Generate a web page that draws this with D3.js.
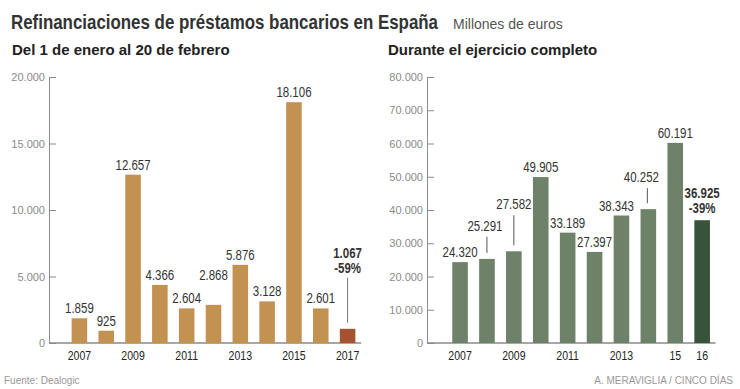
<!DOCTYPE html>
<html>
<head>
<meta charset="utf-8">
<script src="https://cdn.jsdelivr.net/npm/d3@7"></script>
<style>
  body { margin: 0; background: #fff; }
  svg { display: block; font-family: 'Liberation Sans', Arial, sans-serif; }
</style>
</head>
<body>
<svg id="chart" width="740" height="389"></svg>
<script>
// DATA
const yearsA = ["2007","2008","2009","2010","2011","2012","2013","2014","2015","2016","2017"];
const valuesA = [1859, 925, 12657, 4366, 2604, 2868, 5876, 3128, 18106, 2601, 1067];
const ticksA = [0, 5000, 10000, 15000, 20000];
const axisLabelsA = ["2007","2009","2011","2013","2015","2017"];

const yearsB = ["2007","2008","2009","2010","2011","2012","2013","2014","2015","2016"];
const valuesB = [24320, 25291, 27582, 49905, 33189, 27397, 38343, 40252, 60191, 36925];
const ticksB = [0, 10000, 20000, 30000, 40000, 50000, 60000, 70000, 80000];
const axisLabelsB = {"2007":"2007","2009":"2009","2011":"2011","2013":"2013","2015":"15","2016":"16"};

const fmt = v => d3.format(",")(v).replace(/,/g, ".");

const svg = d3.select("#chart");

// condensed text: regular font squeezed horizontally
function narrowText(parent, x, y, str, size, weight, anchor, sx) {
  return parent.append("text")
    .attr("transform", `translate(${x},${y}) scale(${sx || 0.82},1)`)
    .attr("text-anchor", anchor || "middle")
    .attr("font-size", size).attr("font-weight", weight || "normal")
    .attr("fill", "#333")
    .text(str);
}

// TITLES
narrowText(svg, 11, 29, "Refinanciaciones de préstamos bancarios en España", 20, "bold", "start", 0.845);
svg.append("text")
  .attr("x", 453).attr("y", 29)
  .attr("font-size", 14).attr("fill", "#555")
  .text("Millones de euros");
svg.append("text")
  .attr("x", 12).attr("y", 55)
  .attr("font-size", 15).attr("font-weight", "bold").attr("fill", "#222")
  .text("Del 1 de enero al 20 de febrero");
svg.append("text")
  .attr("x", 388).attr("y", 55)
  .attr("font-size", 15).attr("font-weight", "bold").attr("fill", "#222")
  .text("Durante el ejercicio completo");

// one panel
function panel(opts) {
  const x = d3.scaleBand().domain(opts.years).range(opts.xr).paddingInner(0.42).paddingOuter(0.21);
  const y = d3.scaleLinear().domain([0, opts.max]).range([343, 77]);
  const g = svg.append("g");

  const axis = d3.axisLeft(y).tickValues(opts.ticks).tickSize(-7).tickSizeOuter(0).tickPadding(4)
    .tickFormat(fmt);
  const ag = g.append("g").attr("transform", `translate(${opts.axisX},0)`).call(axis);
  ag.select(".domain").attr("stroke", "#8a8a8a");
  ag.selectAll(".tick line").attr("stroke", "#8a8a8a");
  ag.selectAll(".tick text").attr("fill", "#8a8a8a")
    .attr("font-family", "'Liberation Sans', Arial, sans-serif").attr("font-size", 11);

  // baseline
  g.append("line")
    .attr("x1", opts.axisX).attr("x2", opts.xr[1])
    .attr("y1", y(0)).attr("y2", y(0))
    .attr("stroke", "#8a8a8a").attr("stroke-width", 1.5);

  const last = opts.years.length - 1;
  g.selectAll("rect.bar").data(opts.values).join("rect")
    .attr("class", "bar")
    .attr("x", (d, i) => x(opts.years[i]))
    .attr("width", x.bandwidth())
    .attr("y", d => y(d))
    .attr("height", d => y(0) - y(d))
    .attr("fill", (d, i) => i === last ? opts.lastColor : opts.color);

  // value labels
  opts.values.forEach((v, i) => {
    if (i === last) return;
    const cx = x(opts.years[i]) + x.bandwidth() / 2 + (opts.dx[i] || 0);
    const lift = opts.lift[i] || 0;
    const ty = y(v) - 5 - lift;
    narrowText(g, cx, ty, fmt(v), 14);
    if (opts.lx[i] !== undefined) {
      g.append("line")
        .attr("x1", cx + opts.lx[i]).attr("x2", cx + opts.lx[i])
        .attr("y1", ty + 6).attr("y2", y(v) - 6)
        .attr("stroke", "#555").attr("stroke-width", 1);
    }
  });

  // last bar (bold) label
  const lv = opts.values[last];
  const lcx = x(opts.years[last]) + x.bandwidth() / 2;
  const ly = y(lv) - 5 - opts.lastLift;
  narrowText(g, lcx, ly - 15, fmt(lv), 14, "bold");
  narrowText(g, lcx, ly, opts.change, 14, "bold");
  if (opts.lastLift > 10) {
    g.append("line")
      .attr("x1", lcx).attr("x2", lcx)
      .attr("y1", ly + 5).attr("y2", y(lv) - 6)
      .attr("stroke", "#777").attr("stroke-width", 1);
  }

  // x labels
  opts.years.filter(d => opts.xlabels[d]).forEach(d => {
    narrowText(g, x(d) + x.bandwidth() / 2, 360, opts.xlabels[d], 13.5, "normal", "middle", 0.78)
      .attr("fill", "#222");
  });
}

panel({
  years: yearsA, values: valuesA, ticks: ticksA, max: 20000,
  xr: [66, 361], axisX: 49,
  color: "#c39152", lastColor: "#a4532f",
  xlabels: Object.fromEntries(axisLabelsA.map(d => [d, d])),
  lift: {5: 20}, dx: {}, lx: {},
  lastLift: 51, change: "-59%"
});

panel({
  years: yearsB, values: valuesB, ticks: ticksB, max: 80000,
  xr: [446.6, 715.6], axisX: 427,
  color: "#6d8268", lastColor: "#37533a",
  xlabels: axisLabelsB,
  lift: {1: 23, 2: 37, 7: 22}, dx: {1: -2, 6: -5, 7: -7}, lx: {1: 2, 2: 0, 7: 6},
  lastLift: 2, change: "-39%"
});

// FOOTER
svg.append("text")
  .attr("x", 4).attr("y", 384)
  .attr("font-size", 10).attr("fill", "#999")
  .text("Fuente: Dealogic");
svg.append("text")
  .attr("x", 733).attr("y", 384).attr("text-anchor", "end")
  .attr("font-size", 10).attr("fill", "#999")
  .text("A. MERAVIGLIA / CINCO DÍAS");
</script>
</body>
</html>
